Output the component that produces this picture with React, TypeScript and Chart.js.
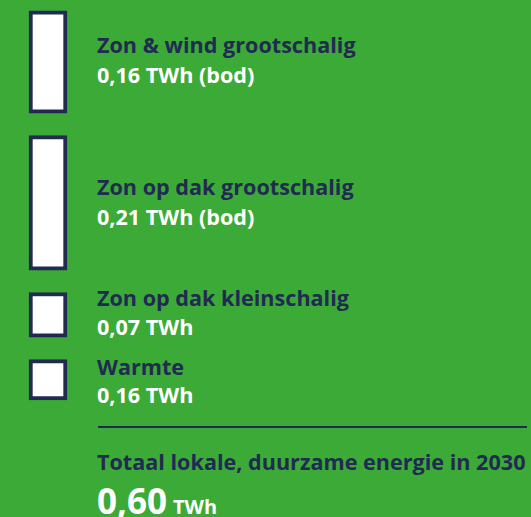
import React, { useEffect, useRef } from "react";
import { Chart, registerables } from "chart.js";

Chart.register(...registerables);

// ---- data ----
const categories = [
  "Zon & wind grootschalig",
  "Zon op dak grootschalig",
  "Zon op dak kleinschalig",
  "Warmte",
];
const valuesTWh = [0.16, 0.21, 0.07, 0.16];
const valueNotes = [" (bod)", " (bod)", "", ""];
// heights of the boxes as drawn in the reference (TWh units)
const boxSizes = [0.16, 0.21, 0.07, 0.063];
const totalLabel = "Totaal lokale, duurzame energie in 2030";
const totalTWh = 0.6;
const unit = "TWh";

// ---- style / layout ----
const GREEN = "#3caa36";
const NAVY = "#212b51";
const FONT = "'Open Sans', 'Noto Sans', sans-serif";
const W = 531;
const H = 517;
const PX_PER_TWH = 640;
const TOP_START = 0.017;
const GAP = 0.035;
const LABEL_SIZE = 21.6;
const labelBaselines = [
  [53, 83],
  [195, 225],
  [306, 335],
  [375, 403],
];

const fmt = (v: number) => v.toFixed(2).replace(".", ",");

function App() {
  const ref = useRef<HTMLCanvasElement | null>(null);

  useEffect(() => {
    if (!ref.current) return;
    let start = TOP_START;
    const datasets = boxSizes.map((s, i) => {
      const range: [number, number] = [start, start + s];
      start = start + s + GAP;
      return {
        label: categories[i],
        data: [range],
        backgroundColor: "#ffffff",
        borderColor: NAVY,
        borderWidth: 4,
        borderSkipped: false as const,
        barThickness: 38,
        grouped: false,
      };
    });
    const chart = new Chart(ref.current, {
      type: "bar",
      data: { labels: [""], datasets: datasets as any },
      options: {
        animation: false,
        responsive: false,
        layout: { padding: 0 },
        plugins: { legend: { display: false }, tooltip: { enabled: false } },
        scales: {
          x: { display: false },
          y: { display: false, reverse: true, min: 0, max: H / PX_PER_TWH },
        },
      },
    });
    return () => chart.destroy();
  }, []);

  const line = (
    text: React.ReactNode,
    baseline: number,
    size: number,
    color: string,
    key: string
  ) => (
    <div
      key={key}
      style={{
        position: "absolute",
        left: 97,
        top: baseline - Math.round(size * 0.888),
        fontSize: size,
        lineHeight: `${size}px`,
        fontWeight: 700,
        color,
        whiteSpace: "nowrap",
      }}
    >
      {text}
    </div>
  );

  return (
    <div
      style={{
        position: "fixed",
        left: 0,
        top: 0,
        width: W,
        height: H,
        background: GREEN,
        fontFamily: FONT,
        overflow: "hidden",
      }}
    >
      <canvas
        ref={ref}
        width={96}
        height={H}
        style={{ position: "absolute", left: 0, top: 0, width: 96, height: H }}
      />
      {categories.map((c, i) => [
        line(c, labelBaselines[i][0], LABEL_SIZE, NAVY, `c${i}`),
        line(
          `${fmt(valuesTWh[i])} ${unit}${valueNotes[i]}`,
          labelBaselines[i][1],
          LABEL_SIZE,
          "#ffffff",
          `v${i}`
        ),
      ])}
      <div
        style={{
          position: "absolute",
          left: 98,
          top: 426,
          width: 429,
          height: 2,
          background: NAVY,
        }}
      />
      {line(totalLabel, 470, LABEL_SIZE, NAVY, "tl")}
      {line(
        <>
          <span>{fmt(totalTWh)}</span>
          <span style={{ fontSize: 20, marginLeft: 6 }}>{unit}</span>
        </>,
        514,
        35,
        "#ffffff",
        "tv"
      )}
    </div>
  );
}

export default App;
